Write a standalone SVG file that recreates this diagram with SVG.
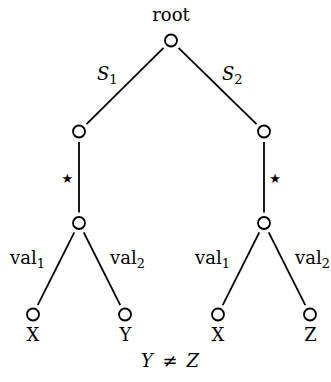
<svg xmlns="http://www.w3.org/2000/svg" width="331" height="382" viewBox="0 0 331 382">
<style>
.nd{fill:#fff;stroke:#000;stroke-width:1.8}
.ed{stroke:#000;stroke-width:1.8;fill:none}
text{font-family:"DejaVu Serif","Liberation Serif",serif;font-size:18px;fill:#000}
.it{font-style:italic}
.sub{font-size:13px;font-style:normal}
.star{font-family:"DejaVu Sans",sans-serif;font-size:13px}
.mid{text-anchor:middle}
</style>
<rect width="331" height="382" fill="#fff"/>
<g id="connectors">
  <line class="ed" x1="163.5" y1="47.9" x2="86.5" y2="124.1"/>
  <line class="ed" x1="178.5" y1="47.8" x2="256.5" y2="124.2"/>
  <line class="ed" x1="79" y1="142" x2="79" y2="212.5"/>
  <line class="ed" x1="264" y1="142" x2="264" y2="212.5"/>
  <line class="ed" x1="74.3" y1="232.4" x2="37.7" y2="305.1"/>
  <line class="ed" x1="83.7" y1="232.4" x2="120.3" y2="305.1"/>
  <line class="ed" x1="259.3" y1="232.4" x2="222.7" y2="305.1"/>
  <line class="ed" x1="268.7" y1="232.4" x2="305.3" y2="305.1"/>
  <text x="97" y="80"><tspan class="it">S</tspan><tspan class="sub" dy="4">1</tspan></text>
  <text x="222" y="80"><tspan class="it">S</tspan><tspan class="sub" dy="4">2</tspan></text>
  <text class="star mid" x="67.3" y="182.8">★</text>
  <text class="star mid" x="275" y="182.8">★</text>
  <text x="10" y="264">val<tspan class="sub" dy="4">1</tspan></text>
  <text x="110" y="264">val<tspan class="sub" dy="4">2</tspan></text>
  <text x="195" y="264">val<tspan class="sub" dy="4">1</tspan></text>
  <text x="295" y="264">val<tspan class="sub" dy="4">2</tspan></text>
</g>
<g id="root">
  <circle class="nd" cx="171" cy="40.5" r="6"/>
  <text class="mid" x="171" y="20.5">root</text>
</g>
<g id="n1l"><circle class="nd" cx="79" cy="131.5" r="6"/></g>
<g id="n1r"><circle class="nd" cx="264" cy="131.5" r="6"/></g>
<g id="n2l"><circle class="nd" cx="79" cy="223" r="6"/></g>
<g id="n2r"><circle class="nd" cx="264" cy="223" r="6"/></g>
<g id="leaf1"><circle class="nd" cx="33" cy="314.5" r="6"/><text class="mid" x="33" y="341">X</text></g>
<g id="leaf2"><circle class="nd" cx="125" cy="314.5" r="6"/><text class="mid" x="125.5" y="341">Y</text></g>
<g id="leaf3"><circle class="nd" cx="218" cy="314.5" r="6"/><text class="mid" x="218" y="341">X</text></g>
<g id="leaf4"><circle class="nd" cx="310" cy="314.5" r="6"/><text class="mid" x="310.5" y="341">Z</text></g>
<g id="constraint">
  <text class="it" x="141" y="367">Y</text>
  <text class="mid" x="170" y="367">≠</text>
  <text class="it" x="199" y="367" text-anchor="end">Z</text>
</g>
</svg>
